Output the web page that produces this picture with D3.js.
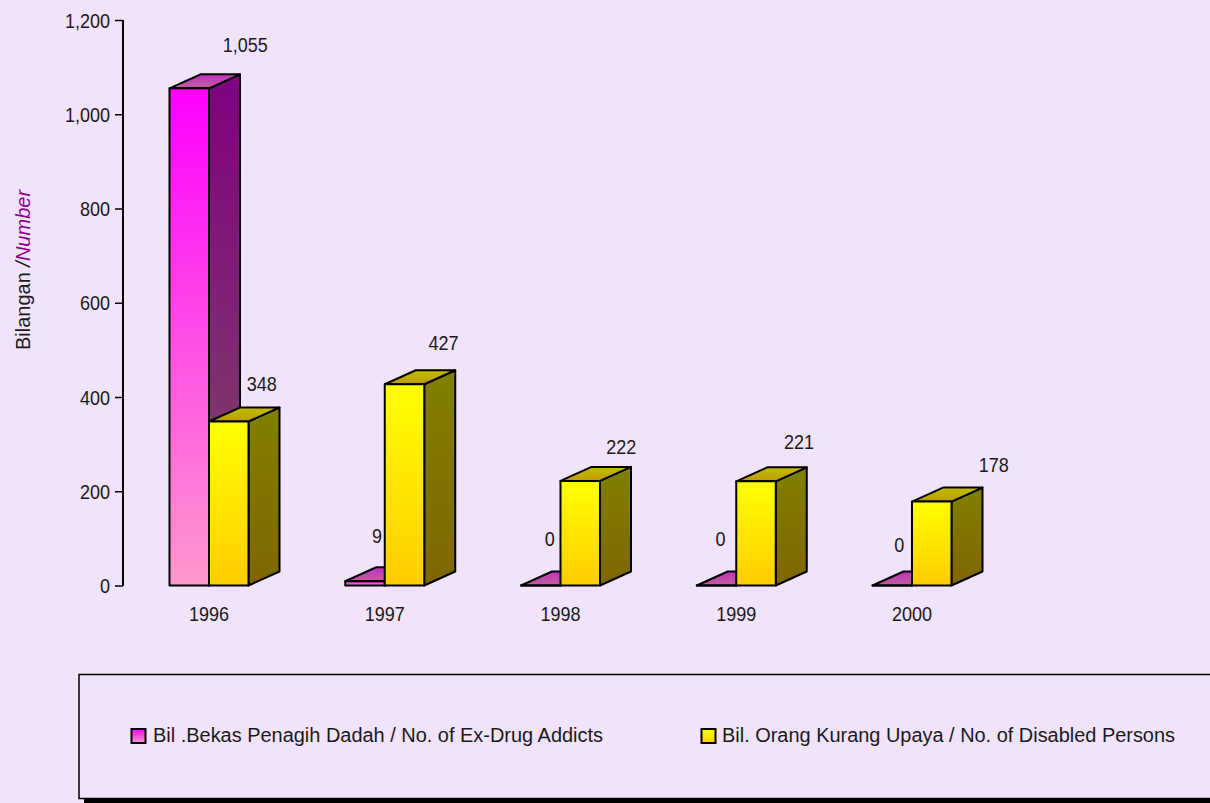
<!DOCTYPE html>
<html><head><meta charset="utf-8">
<script src="https://cdn.jsdelivr.net/npm/d3@7/dist/d3.min.js"></script>
<style>html,body{margin:0;padding:0;background:#f1e3fa;overflow:hidden}svg{display:block}
text{font-family:"Liberation Sans",Arial,sans-serif;fill:#1a1a1a;font-size:20px}</style>
</head><body><div id="c"></div>
<script>
const categories=["1996","1997","1998","1999","2000"];
const seriesNames=["Bil .Bekas Penagih Dadah / No. of Ex-Drug Addicts","Bil. Orang Kurang Upaya / No. of Disabled Persons"];
const addicts=[1055,9,0,0,0];
const disabled=[348,427,222,221,178];
const yTicks=[0,200,400,600,800,1000,1200];
// label nudges (layout only, the source chart placed them by hand)
const addictLabelPos=[[56,-43],[12,-45],[9,-47],[4,-47],[7,-41]];
const disabledLabelPos=[[33,-38],[39,-41],[41,-34],[43,-39],[62,-37]];

const W=1210,H=803,bw=39.5,dx=31,dy=14;
const svg=d3.select("#c").append("svg").attr("width",W).attr("height",H);
svg.append("rect").attr("width",W).attr("height",H).attr("fill","#f1e3fa");
const y=d3.scaleLinear().domain([0,1200]).range([585.5,20]);
const x=d3.scalePoint().domain(categories).range([209,912]);
const defs=svg.append("defs");
function grad(id,c1,c2){const g=defs.append("linearGradient").attr("id",id).attr("x1",0).attr("y1",0).attr("x2",0).attr("y2",1);
 g.append("stop").attr("offset",0).attr("stop-color",c1);g.append("stop").attr("offset",1).attr("stop-color",c2);}
grad("pf","#ff00ff","#ff99cc");grad("ps","#800080","#804d66");grad("pt","#c030c0","#c0609a");
grad("yf","#ffff00","#ffcc00");grad("ys","#808000","#806600");grad("yt","#c0c000","#c09900");

function bar(g,x0,v,k){
 const x1=x0+bw,yt=y(v),yb=y(0);
 const st={stroke:"#000","stroke-width":2,"stroke-linejoin":"round"};
 const p=(d,f)=>{const e=g.append("path").attr("d",d).attr("fill",f);for(const a in st)e.attr(a,st[a]);};
 p(`M${x1},${yt}L${x1+dx},${yt-dy}L${x1+dx},${yb-dy}L${x1},${yb}Z`,`url(#${k}s)`);
 p(`M${x0},${yt}L${x0+dx},${yt-dy}L${x1+dx},${yt-dy}L${x1},${yt}Z`,`url(#${k}t)`);
 p(`M${x0},${yt}H${x1}V${yb}H${x0}Z`,`url(#${k}f)`);
}
const bars=svg.append("g");
categories.forEach((c,i)=>{ bar(bars,x(c)-bw,addicts[i],"p"); });
categories.forEach((c,i)=>{ bar(bars,x(c),disabled[i],"y"); });
// axis
const ax=svg.append("g").attr("transform","translate(123,0)").call(d3.axisLeft(y).tickValues(yTicks).tickSize(8).tickPadding(5).tickFormat(d3.format(",")));
ax.select(".domain").attr("stroke","#000").attr("stroke-width",2).attr("d","M0,20V586");
ax.selectAll(".tick line").attr("stroke","#000").attr("stroke-width",1.5);
ax.selectAll("text").style("font-size","20px").attr("fill","#1a1a1a").attr("dy","0.35em");
// category labels
svg.selectAll("text.cat").data(categories).join("text").attr("class","cat").attr("x",d=>x(d)).attr("y",621).attr("text-anchor","middle").text(d=>d);
// value labels
const fmt=d3.format(",");
categories.forEach((c,i)=>{
 svg.append("text").attr("x",x(c)-bw/2+addictLabelPos[i][0]).attr("y",y(addicts[i])+addictLabelPos[i][1]+7).attr("text-anchor","middle").text(fmt(addicts[i]));
 svg.append("text").attr("x",x(c)+bw/2+disabledLabelPos[i][0]).attr("y",y(disabled[i])+disabledLabelPos[i][1]+7).attr("text-anchor","middle").text(fmt(disabled[i]));
});
// squeeze numeric labels to the source's narrower set width
svg.selectAll("text").each(function(){
 const n=this.getComputedTextLength();
 this.setAttribute("textLength",n*0.9);this.setAttribute("lengthAdjust","spacingAndGlyphs");
});
// y title
const t=svg.append("text").attr("transform","translate(30,270) rotate(-90)").attr("text-anchor","middle");
t.append("tspan").text("Bilangan ");
t.append("tspan").attr("font-style","italic").text("/");
t.append("tspan").attr("font-style","italic").attr("style","fill:#8b008b").text("Number");
// legend
svg.append("rect").attr("x",84).attr("y",679).attr("width",1200).attr("height",124).attr("fill","#000");
svg.append("rect").attr("x",79).attr("y",674.5).attr("width",1200).attr("height",124).attr("fill","#f1e3fa").attr("stroke","#000").attr("stroke-width",1.5);
[["p",131,153,450],["y",701,722,453]].forEach(([k,sx,tx,len],i)=>{
 svg.append("rect").attr("x",sx+.5).attr("y",729).attr("width",14).attr("height",14).attr("fill",`url(#${k}f)`).attr("stroke","#000").attr("stroke-width",2);
 svg.append("text").attr("x",tx).attr("y",742).attr("textLength",len).attr("lengthAdjust","spacingAndGlyphs").text(seriesNames[i]);
});
</script></body></html>
